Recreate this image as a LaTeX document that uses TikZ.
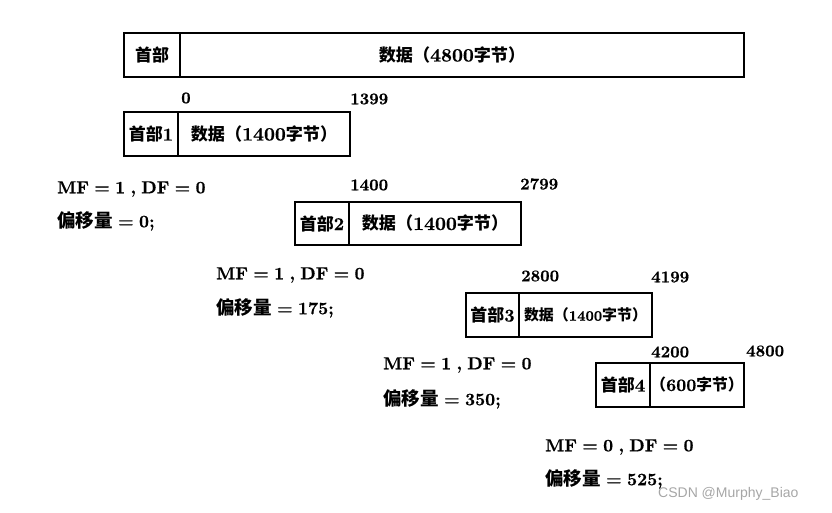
\documentclass[tikz,border=0pt]{standalone}
\usepackage{fontspec}
\setmainfont{lmroman10-regular.otf}[BoldFont=lmroman10-bold.otf, BoldFeatures={FakeBold=0.6}]
\newfontfamily\cjkA{Noto Sans CJK SC}[Scale=1.06]
\newfontfamily\cjkB{Noto Sans CJK SC}[Scale=0.9]
\newfontfamily\cjkC{Noto Sans CJK SC}[Scale=1.03]
\newfontfamily\cjkD{Noto Sans CJK SC}[Scale=0.94]
\newfontfamily\wmfont{Liberation Sans}
\newcommand\zh[1]{{\cjkA\bfseries #1}}
\newcommand\zhs[1]{{\cjkB\bfseries #1}}
\newcommand\zhc[1]{{\cjkC\bfseries #1}}
\newcommand\zhh[1]{{\cjkD\bfseries #1}}
\tikzset{
  cell/.style={draw, line width=2.5pt, inner sep=0pt, outer sep=0pt, anchor=north west},
  celltxt/.style={inner sep=0pt, font=\fontsize{18}{20}\selectfont\bfseries},
  datatxt/.style={inner sep=0pt, font=\fontsize{19}{21}\selectfont\bfseries},
  lbl/.style={inner sep=0pt, anchor=west, font={\fontsize{17.5}{19}\selectfont\bfseries\spaceskip=0.3em plus 0.1em minus 0.05em}},
  num/.style={inner sep=0pt, anchor=west, font=\fontsize{16.5}{18}\selectfont\bfseries}
}
\begin{document}
\begin{tikzpicture}[x=1pt,y=-1pt]
\useasboundingbox (0,0) rectangle (832,513);
% top box
\node[cell, minimum width=56pt, minimum height=44pt] (h0) at (124,33) {};
\node[cell, minimum width=564pt, minimum height=44pt] (d0) at (h0.north east) {};
\node[celltxt] (th0) at (h0.center) {\zhh{首部}};
\node[datatxt] (td0) at (452,55) {\zhs{数据（}4800\zhs{字节）}};
% box 1
\node[cell, minimum width=54pt, minimum height=44pt] (h1) at (124,112) {};
\node[cell, minimum width=172pt, minimum height=44pt] (d1) at (h1.north east) {};
\node[celltxt] (th1) at (h1.center) {\zhh{首部}1};
\node[datatxt] (td1) at (d1.center) {\zhs{数据（}1400\zhs{字节）}};
% box 2
\node[cell, minimum width=54pt, minimum height=43pt] (h2) at (295,202) {};
\node[cell, minimum width=172pt, minimum height=43pt] (d2) at (h2.north east) {};
\node[celltxt] (th2) at (h2.center) {\zhh{首部}2};
\node[datatxt] (td2) at (d2.center) {\zhs{数据（}1400\zhs{字节）}};
% box 3
\node[cell, minimum width=53pt, minimum height=44pt] (h3) at (466,293) {};
\node[cell, minimum width=133pt, minimum height=44pt] (d3) at (h3.north east) {};
\node[celltxt] (th3) at (h3.center) {\zhh{首部}3};
\node[datatxt, font=\fontsize{14.5}{16}\selectfont\bfseries] (td3) at (d3.center) {\zhc{数据（}1400\zhc{字节）}};
% box 4
\node[cell, minimum width=54pt, minimum height=44pt] (h4) at (596,363) {};
\node[cell, minimum width=94pt, minimum height=44pt] (d4) at (h4.north east) {};
\node[celltxt] (th4) at (h4.center) {\zhh{首部}4};
\node[datatxt, font=\fontsize{17.5}{19}\selectfont\bfseries] (td4) at (d4.center) {\zhs{（}600\zhs{字节）}};
% offsets
\node[num] (n0) at (181,98) {0};
\node[num] (n1399) at (350,99) {1399};
\node[num] (n1400) at (350,185) {1400};
\node[num] (n2799) at (520,184) {2799};
\node[num] (n2800) at (521,276) {2800};
\node[num] (n4199) at (651,277) {4199};
\node[num] (n4200) at (651,352) {4200};
\node[num] (n4800) at (746,351) {4800};
% flags
\node[lbl] (f1) at (57,189) {MF = 1 , DF = 0};
\node[lbl] (o1) at (57,221) {\zh{偏移量} = 0;};
\node[lbl] (f2) at (216,275) {MF = 1 , DF = 0};
\node[lbl] (o2) at (216,308) {\zh{偏移量} = 175;};
\node[lbl] (f3) at (383,365) {MF = 1 , DF = 0};
\node[lbl] (o3) at (383,399) {\zh{偏移量} = 350;};
\node[lbl] (f4) at (545,447) {MF = 0 , DF = 0};
\node[lbl] (o4) at (545,479) {\zh{偏移量} = 525;};
\node[inner sep=0pt, anchor=west, text=black!35, font=\wmfont\fontsize{14}{16}\selectfont] (wm) at (658,494) {CSDN @Murphy\_Biao};
\end{tikzpicture}
\end{document}
